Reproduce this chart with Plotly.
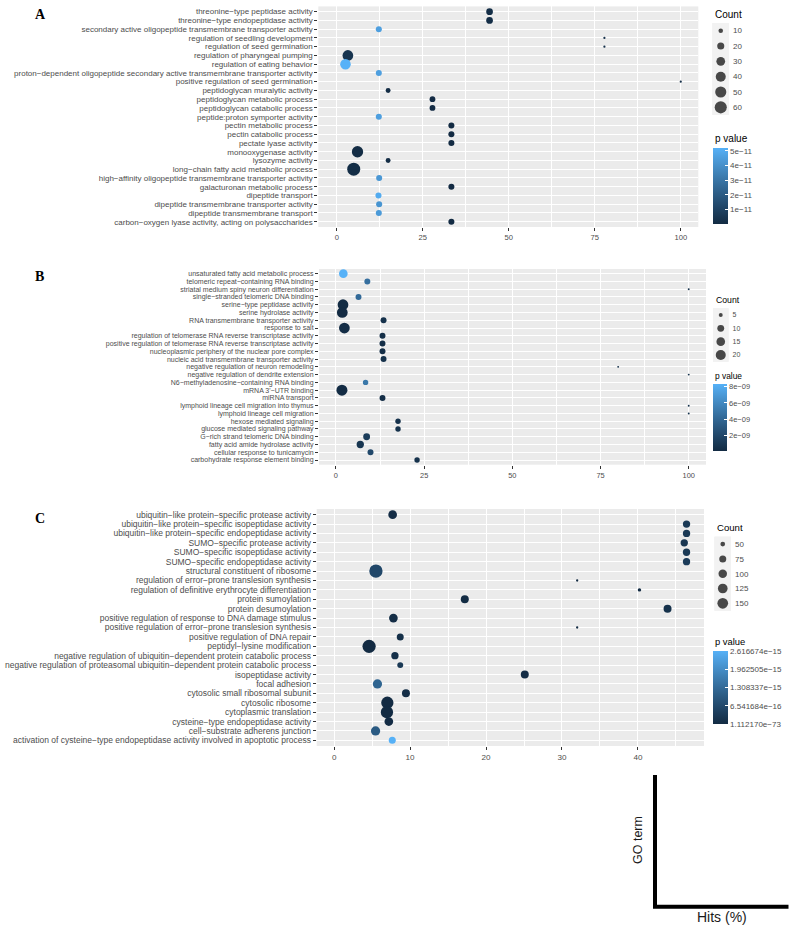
import numpy as np
import plotly.graph_objects as go

W, H = 793, 927

## Panel A : GO terms (listed top to bottom as in the figure)
a_terms = [
    "threonine\u2212type peptidase activity",
    "threonine\u2212type endopeptidase activity",
    "secondary active oligopeptide transmembrane transporter activity",
    "regulation of seedling development",
    "regulation of seed germination",
    "regulation of pharyngeal pumping",
    "regulation of eating behavior",
    "proton\u2212dependent oligopeptide secondary active transmembrane transporter activity",
    "positive regulation of seed germination",
    "peptidoglycan muralytic activity",
    "peptidoglycan metabolic process",
    "peptidoglycan catabolic process",
    "peptide:proton symporter activity",
    "pectin metabolic process",
    "pectin catabolic process",
    "pectate lyase activity",
    "monooxygenase activity",
    "lysozyme activity",
    "long\u2212chain fatty acid metabolic process",
    "high\u2212affinity oligopeptide transmembrane transporter activity",
    "galacturonan metabolic process",
    "dipeptide transport",
    "dipeptide transmembrane transporter activity",
    "dipeptide transmembrane transport",
    "carbon\u2212oxygen lyase activity, acting on polysaccharides",
]
a_hits = [44.4, 44.4, 12.2, 77.8, 77.8, 3.2, 2.5, 12.2, 100, 14.9, 27.8, 27.8, 12.2,
          33.3, 33.3, 33.3, 6.0, 14.9, 4.9, 12.3, 33.3, 12.1, 12.3, 12.2, 33.3]
a_count = [18, 18, 15, 7, 7, 46, 45, 15, 7, 11, 14, 14, 15,
           15, 15, 15, 52, 11, 70, 15, 15, 15, 15, 15, 15]
a_pval = [1.5e-12, 1.5e-12, 4.6e-11, 3e-12, 3e-12, 4e-12, 5.22e-11, 4.6e-11, 2e-12,
          1e-12, 8e-13, 8e-13, 4.6e-11, 2.5e-13, 2.5e-13, 2.5e-13, 1e-12, 1e-12,
          1.5e-12, 4.3e-11, 2.5e-13, 5.0e-11, 4.2e-11, 4.4e-11, 2.5e-13]
a_count_breaks = [10, 20, 30, 40, 50, 60]
a_p_ticks = [1e-11, 2e-11, 3e-11, 4e-11, 5e-11]
a_p_labels = ["1e\u221211", "2e\u221211", "3e\u221211", "4e\u221211", "5e\u221211"]
a_x_ticks = [0, 25, 50, 75, 100]

## Panel B
b_terms = [
    "unsaturated fatty acid metabolic process",
    "telomeric repeat\u2212containing RNA binding",
    "striatal medium spiny neuron differentiation",
    "single\u2212stranded telomeric DNA binding",
    "serine\u2212type peptidase activity",
    "serine hydrolase activity",
    "RNA transmembrane transporter activity",
    "response to salt",
    "regulation of telomerase RNA reverse transcriptase activity",
    "positive regulation of telomerase RNA reverse transcriptase activity",
    "nucleoplasmic periphery of the nuclear pore complex",
    "nucleic acid transmembrane transporter activity",
    "negative regulation of neuron remodeling",
    "negative regulation of dendrite extension",
    "N6\u2212methyladenosine\u2212containing RNA binding",
    "mRNA 3'\u2212UTR binding",
    "miRNA transport",
    "lymphoid lineage cell migration into thymus",
    "lymphoid lineage cell migration",
    "hexose mediated signaling",
    "glucose mediated signaling pathway",
    "G\u2212rich strand telomeric DNA binding",
    "fatty acid amide hydrolase activity",
    "cellular response to tunicamycin",
    "carbohydrate response element binding",
]
b_hits = [2.1, 8.9, 100, 6.4, 2.0, 1.8, 13.5, 2.4, 13.2, 13.2, 13.2, 13.5, 80.0,
          100, 8.4, 1.7, 13.2, 100, 100, 17.6, 17.6, 8.7, 6.9, 9.8, 23.0]
b_count = [15, 8, 4, 8, 23, 23, 8, 23, 8, 8, 8, 8, 4, 4, 7, 24, 8, 4, 4, 7, 7, 10, 11, 8, 7]
b_pval = [8.34e-9, 4.5e-9, 5e-10, 4.2e-9, 1e-10, 5e-11, 5e-10, 2e-10, 3e-10, 3e-10,
          3e-10, 5e-10, 5e-10, 5e-10, 5.0e-9, 1e-10, 3e-10, 5e-10, 5e-10, 5e-10,
          5e-10, 1.2e-9, 8e-10, 2e-9, 5e-10]
b_count_breaks = [5, 10, 15, 20]
b_p_ticks = [2e-9, 4e-9, 6e-9, 8e-9]
b_p_labels = ["2e\u221209", "4e\u221209", "6e\u221209", "8e\u221209"]
b_x_ticks = [0, 25, 50, 75, 100]

## Panel C
c_terms = [
    "ubiquitin\u2212like protein\u2212specific protease activity",
    "ubiquitin\u2212like protein\u2212specific isopeptidase activity",
    "ubiquitin\u2212like protein\u2212specific endopeptidase activity",
    "SUMO\u2212specific protease activity",
    "SUMO\u2212specific isopeptidase activity",
    "SUMO\u2212specific endopeptidase activity",
    "structural constituent of ribosome",
    "regulation of error\u2212prone translesion synthesis",
    "regulation of definitive erythrocyte differentiation",
    "protein sumoylation",
    "protein desumoylation",
    "positive regulation of response to DNA damage stimulus",
    "positive regulation of error\u2212prone translesion synthesis",
    "positive regulation of DNA repair",
    "peptidyl\u2212lysine modification",
    "negative regulation of ubiquitin\u2212dependent protein catabolic process",
    "negative regulation of proteasomal ubiquitin\u2212dependent protein catabolic process",
    "isopeptidase activity",
    "focal adhesion",
    "cytosolic small ribosomal subunit",
    "cytosolic ribosome",
    "cytoplasmic translation",
    "cysteine\u2212type endopeptidase activity",
    "cell\u2212substrate adherens junction",
    "activation of cysteine\u2212type endopeptidase activity involved in apoptotic process",
]
c_hits = [7.7, 46.4, 46.4, 46.1, 46.4, 46.4, 5.5, 32.0, 40.2, 17.2, 43.9, 7.8, 32.0,
          8.7, 4.6, 8.0, 8.7, 25.1, 5.7, 9.45, 7.0, 6.95, 7.2, 5.45, 7.65]
c_count = [104, 80, 80, 80, 80, 80, 228, 41, 43, 91, 91, 104, 41,
           75, 225, 80, 62, 91, 116, 91, 195, 195, 104, 116, 75]
c_pval = [5e-17, 3e-16, 3e-16, 2.5e-16, 3e-16, 3.5e-16, 6e-16, 1e-20, 1e-20, 2e-17,
          1.5e-16, 5e-17, 1e-20, 1e-16, 1e-30, 1e-16, 3e-16, 5e-17, 1.2e-15, 5e-17,
          1e-60, 1.112170e-73, 1e-17, 1.0e-15, 2.616674e-15]
c_count_breaks = [50, 75, 100, 125, 150]
c_p_ticks = [1.112170e-73, 6.541684e-16, 1.308337e-15, 1.962505e-15, 2.616674e-15]
c_p_labels = ["1.112170e\u221273", "6.541684e\u221216", "1.308337e\u221215",
              "1.962505e\u221215", "2.616674e\u221215"]
c_x_ticks = [0, 10, 20, 30, 40]


def px(x):
    return x / W


def py(y):
    return 1 - y / H


## ggplot-like size scale (area palette between dmin and dmax)
def gg_size(c, lo, hi, dmin, dmax):
    c = np.asarray(c, float)
    return dmin + (dmax - dmin) * np.sqrt(np.clip((c - lo) / (hi - lo), 0, 1))


## ggplot default gradient #132B43 -> #56B1F7, interpolated in Lab
M = np.array([[0.4124, 0.3576, 0.1805], [0.2126, 0.7152, 0.0722], [0.0193, 0.1192, 0.9505]])
WHITE = np.array([0.95047, 1.0, 1.08883])


def hex2lab(h):
    rgb = [int(h[i:i + 2], 16) / 255 for i in (1, 3, 5)]
    lin = np.array([c / 12.92 if c <= 0.04045 else ((c + 0.055) / 1.055) ** 2.4 for c in rgb])
    xyz = M @ lin / WHITE
    f = [t ** (1 / 3) if t > 0.008856 else 7.787 * t + 16 / 116 for t in xyz]
    return np.array([116 * f[1] - 16, 500 * (f[0] - f[1]), 200 * (f[1] - f[2])])


def lab2hex(lab):
    fy = (lab[0] + 16) / 116
    fx = fy + lab[1] / 500
    fz = fy - lab[2] / 200
    xyz = np.array([t ** 3 if t ** 3 > 0.008856 else (t - 16 / 116) / 7.787 for t in (fx, fy, fz)]) * WHITE
    lin = np.linalg.inv(M) @ xyz
    rgb = [12.92 * c if c <= 0.0031308 else 1.055 * c ** (1 / 2.4) - 0.055 for c in lin]
    return "#%02x%02x%02x" % tuple(int(round(min(max(c, 0), 1) * 255)) for c in rgb)


lo_lab, hi_lab = hex2lab("#132B43"), hex2lab("#56B1F7")
scale = [[t, lab2hex(lo_lab + (hi_lab - lo_lab) * t)] for t in np.linspace(0, 1, 11)]

TXT = "#4D4D4D"
fig = go.Figure()

panels = [
    dict(terms=a_terms, hits=a_hits, count=a_count, pval=a_pval, breaks=a_count_breaks,
         pticks=a_p_ticks, plabels=a_p_labels, xticks=a_x_ticks, minor=12.5,
         xrange=[-5.4, 105.1], box=(318.3, 698.3, 6.4, 227.0), dsize=(2.2, 13.0),
         yfont=8, xfont=7.6, letter="A", letter_y=14,
         key=(712.5, 729, 23, 115), keyfont=8, count_title=(712.7, 14, 10),
         p_title=(712.7, 138.7, 10), bar=(713, 147.7, 76.3, 15), barfont=8),
    dict(terms=b_terms, hits=b_hits, count=b_count, pval=b_pval, breaks=b_count_breaks,
         pticks=b_p_ticks, plabels=b_p_labels, xticks=b_x_ticks, minor=12.5,
         xrange=[-4.8, 104.9], box=(319, 706, 269, 464.7), dsize=(1.9, 11.0),
         yfont=7, xfont=7.4, letter="B", letter_y=276.7,
         key=(713, 728.5, 308.3, 361.7), keyfont=7, count_title=(713.7, 300, 8.7),
         p_title=(713, 376, 8.4), bar=(713, 384, 66.7, 13.5), barfont=7.5),
    dict(terms=c_terms, hits=c_hits, count=c_count, pval=c_pval, breaks=c_count_breaks,
         pticks=c_p_ticks, plabels=c_p_labels, xticks=c_x_ticks, minor=5,
         xrange=[-2.3, 48.7], box=(316.7, 704, 509, 746), dsize=(2.3, 13.3),
         yfont=8.5, xfont=8.1, letter="C", letter_y=518.3,
         key=(714.5, 731, 536.7, 610.7), keyfont=8, count_title=(715, 527.7, 9.6),
         p_title=(712.7, 641.7, 9.4), bar=(713, 651, 73.3, 14.7), barfont=8),
]

layout = dict(width=W, height=H, margin=dict(l=0, r=0, t=0, b=0),
              paper_bgcolor="white", plot_bgcolor="#EBEBEB", showlegend=False,
              font=dict(family="Liberation Sans, Arial, sans-serif", color=TXT))
shapes = []
annotations = []

for i, p in enumerate(panels):
    k = i + 1
    sfx = "" if k == 1 else str(k)
    lk = str(k + 3)
    n = len(p["terms"])
    lo, hi = min(p["count"]), max(p["count"])
    l, r, t, b = p["box"]

    fig.add_trace(go.Scatter(
        x=p["hits"], y=p["terms"], mode="markers", xaxis="x" + sfx, yaxis="y" + sfx,
        marker=dict(size=gg_size(p["count"], lo, hi, *p["dsize"]), color=p["pval"],
                    coloraxis="coloraxis" + sfx, line=dict(width=0), opacity=1),
        hoverinfo="x+y"))

    layout["xaxis" + sfx] = dict(
        domain=[px(l), px(r)], range=p["xrange"], anchor="y" + sfx,
        tickmode="array", tickvals=p["xticks"], ticks="outside", ticklen=3,
        tickcolor="#333333", tickfont=dict(size=p["xfont"], color=TXT),
        showgrid=True, gridcolor="white", gridwidth=1, zeroline=False, showline=False,
        minor=dict(dtick=p["minor"], tick0=0, showgrid=True, gridcolor="white",
                   gridwidth=0.5, ticks=""))
    layout["yaxis" + sfx] = dict(
        domain=[py(b), py(t)], anchor="x" + sfx, type="category",
        categoryorder="array", categoryarray=p["terms"][::-1], range=[-0.6, n - 0.4],
        tickmode="array", tickvals=p["terms"], ticktext=p["terms"],
        ticks="outside", ticklen=3, tickcolor="#333333",
        tickfont=dict(size=p["yfont"], color=TXT), showgrid=True, gridcolor="white",
        gridwidth=1, zeroline=False, showline=False)

    bx, btop, blen, bth = p["bar"]
    layout["coloraxis" + sfx] = dict(
        colorscale=scale, cmin=min(p["pval"]), cmax=max(p["pval"]),
        colorbar=dict(x=px(bx), xanchor="left", y=py(btop), yanchor="top",
                      len=blen, lenmode="pixels", thickness=bth, thicknessmode="pixels",
                      xpad=0, ypad=0, outlinewidth=0, ticks="inside", ticklen=3,
                      tickcolor="white", tickwidth=1, tickmode="array",
                      tickvals=p["pticks"], ticktext=p["plabels"],
                      tickfont=dict(size=p["barfont"], color=TXT)))

    ## Count legend drawn on its own little axis
    kl, kr, kt, kb = p["key"]
    brk = [str(v) for v in p["breaks"]]
    fig.add_trace(go.Scatter(
        x=[0] * len(brk), y=brk, mode="markers", xaxis="x" + lk, yaxis="y" + lk,
        marker=dict(size=gg_size(p["breaks"], lo, hi, *p["dsize"]), color="black",
                    line=dict(width=0)), hoverinfo="skip", cliponaxis=False))
    layout["xaxis" + lk] = dict(domain=[px(kl), px(kr)], range=[-1, 1], anchor="y" + lk,
                                visible=False, fixedrange=True)
    layout["yaxis" + lk] = dict(domain=[py(kb), py(kt)], anchor="x" + lk, type="category",
                                categoryorder="array", categoryarray=brk[::-1],
                                range=[-0.5, len(brk) - 0.5], side="right",
                                tickmode="array", tickvals=brk, ticktext=brk,
                                showgrid=False, zeroline=False, showline=False, ticks="",
                                ticklabelstandoff=3,
                                tickfont=dict(size=p["keyfont"], color=TXT), fixedrange=True)
    shapes.append(dict(type="rect", xref="x%s domain" % lk, yref="y%s domain" % lk,
                       x0=0, x1=1, y0=0, y1=1, fillcolor="#F2F2F2", line=dict(width=0),
                       layer="below"))

    cx, cy, cs = p["count_title"]
    annotations.append(dict(text="Count", x=px(cx), y=py(cy), xref="paper", yref="paper",
                            xanchor="left", yanchor="middle", showarrow=False,
                            font=dict(size=cs, color="black")))
    tx, ty, ts = p["p_title"]
    annotations.append(dict(text="p value", x=px(tx), y=py(ty), xref="paper", yref="paper",
                            xanchor="left", yanchor="middle", showarrow=False,
                            font=dict(size=ts, color="black")))
    annotations.append(dict(text="<b>%s</b>" % p["letter"], x=px(33), y=py(p["letter_y"]),
                            xref="paper", yref="paper", xanchor="left", yanchor="middle",
                            showarrow=False,
                            font=dict(size=14, color="black",
                                      family="Liberation Serif, Times New Roman, serif")))

## axis key in the lower right corner
shapes.append(dict(type="path", xref="paper", yref="paper",
                   path="M %f %f L %f %f L %f %f" % (px(655), py(775), px(655), py(906.7),
                                                     px(788.5), py(906.7)),
                   line=dict(color="black", width=4)))
annotations.append(dict(text="GO term", x=px(638), y=py(840), xref="paper", yref="paper",
                        textangle=-90, showarrow=False, xanchor="center", yanchor="middle",
                        font=dict(size=12.5, color="#1a1a1a")))
annotations.append(dict(text="Hits (%)", x=px(721.7), y=py(916.7), xref="paper", yref="paper",
                        showarrow=False, xanchor="center", yanchor="middle",
                        font=dict(size=14, color="#1a1a1a")))

layout["shapes"] = shapes
layout["annotations"] = annotations
fig.update_layout(**layout)

## the page's default body margin would push the figure 8px off the window
fig.write_html("out.html", config={"displayModeBar": False},
               post_script="document.body.style.margin='0';")
